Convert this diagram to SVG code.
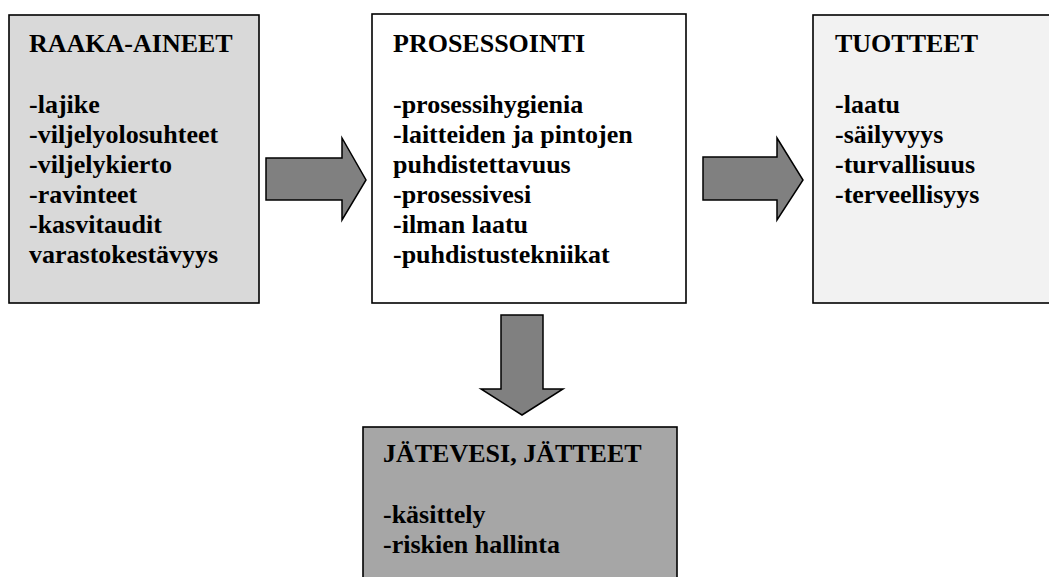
<svg xmlns="http://www.w3.org/2000/svg" width="1049" height="577" viewBox="0 0 1049 577">
<style>
.box{stroke:#000;stroke-width:1.6}
.arrow{fill:#808080;stroke:#000;stroke-width:1.5;stroke-linejoin:miter}
.t{font-family:'Liberation Serif','Times New Roman',Times,'DejaVu Serif',serif;font-weight:700;font-size:26px;fill:#000}
</style>
<rect x="0" y="0" width="1049" height="577" fill="#fff"/>
<g id="raaka-aineet">
<rect class="box" x="9" y="15" width="250" height="288" fill="#d9d9d9"/>
<text class="t" font-family="Liberation Serif" x="29" y="52">RAAKA-AINEET</text>
<text class="t" font-family="Liberation Serif" x="29" y="113">-lajike</text>
<text class="t" font-family="Liberation Serif" x="29" y="143">-viljelyolosuhteet</text>
<text class="t" font-family="Liberation Serif" x="29" y="173">-viljelykierto</text>
<text class="t" font-family="Liberation Serif" x="29" y="203">-ravinteet</text>
<text class="t" font-family="Liberation Serif" x="29" y="233">-kasvitaudit</text>
<text class="t" font-family="Liberation Serif" x="29" y="263">varastokestävyys</text>
</g>
<g id="prosessointi">
<rect class="box" x="372" y="14" width="314" height="289" fill="#fff"/>
<text class="t" font-family="Liberation Serif" x="393" y="52">PROSESSOINTI</text>
<text class="t" font-family="Liberation Serif" x="393" y="113">-prosessihygienia</text>
<text class="t" font-family="Liberation Serif" x="393" y="143">-laitteiden ja pintojen</text>
<text class="t" font-family="Liberation Serif" x="393" y="173">puhdistettavuus</text>
<text class="t" font-family="Liberation Serif" x="393" y="203">-prosessivesi</text>
<text class="t" font-family="Liberation Serif" x="393" y="233">-ilman laatu</text>
<text class="t" font-family="Liberation Serif" x="393" y="263">-puhdistustekniikat</text>
</g>
<g id="tuotteet">
<rect class="box" x="813" y="15" width="250" height="288" fill="#f2f2f2"/>
<text class="t" font-family="Liberation Serif" x="835" y="52">TUOTTEET</text>
<text class="t" font-family="Liberation Serif" x="835" y="113">-laatu</text>
<text class="t" font-family="Liberation Serif" x="835" y="143">-säilyvyys</text>
<text class="t" font-family="Liberation Serif" x="835" y="173">-turvallisuus</text>
<text class="t" font-family="Liberation Serif" x="835" y="203">-terveellisyys</text>
</g>
<g id="jatevesi">
<rect class="box" x="363" y="427" width="314" height="170" fill="#a6a6a6"/>
<text class="t" font-family="Liberation Serif" x="383" y="462">JÄTEVESI, JÄTTEET</text>
<text class="t" font-family="Liberation Serif" x="383" y="523">-käsittely</text>
<text class="t" font-family="Liberation Serif" x="383" y="553">-riskien hallinta</text>
</g>
<g id="connectors">
<polygon class="arrow" points="266,158 342,158 342,138 366,180 342,220 342,200 266,200"/>
<polygon class="arrow" points="703,157 777,157 777,138 803,180 777,220 777,200 703,200"/>
<polygon class="arrow" points="501,315 543,315 543,389 563,389 522,415 481,389 501,389"/>
</g>
</svg>
